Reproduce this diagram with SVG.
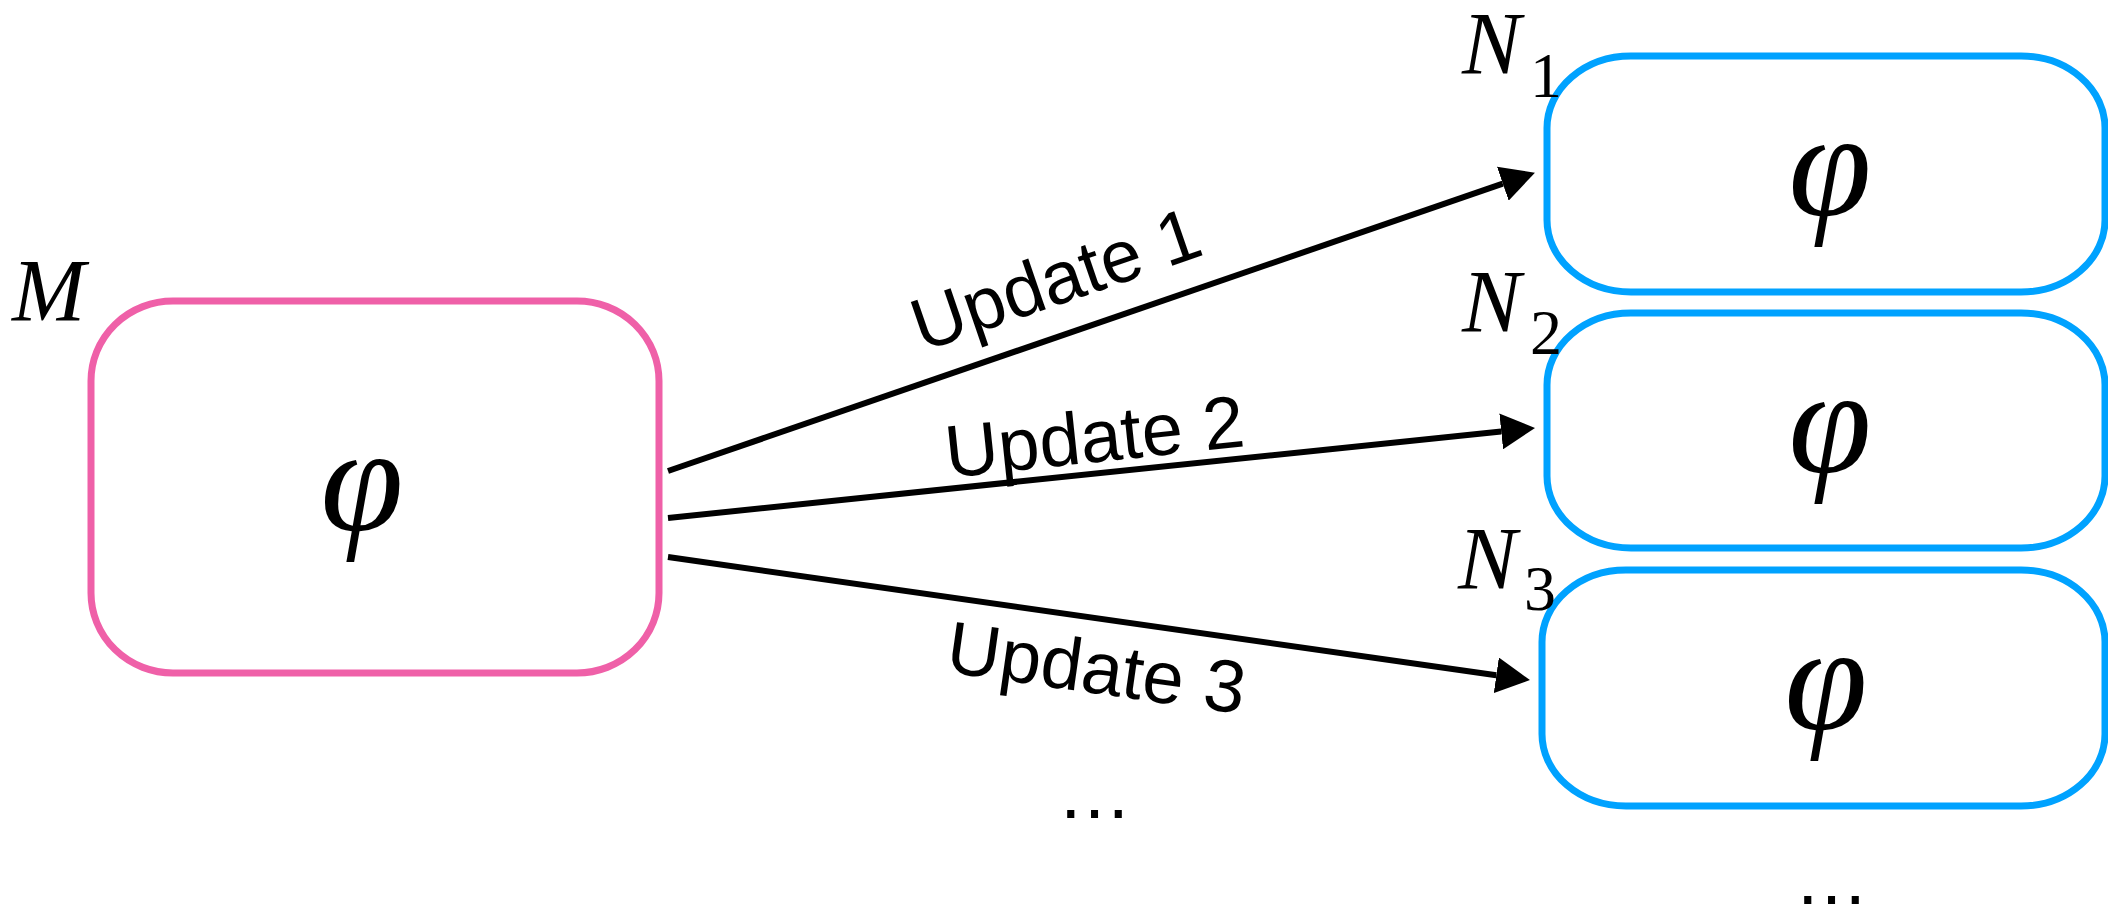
<svg xmlns="http://www.w3.org/2000/svg" width="2108" height="909" viewBox="0 0 2108 909">
<style>
.bg{fill:#ffffff}
.m{fill:none;stroke:#EF60A8;stroke-width:7}
.n{fill:none;stroke:#00A2FF;stroke-width:7}
.phi{font-family:"Liberation Serif","Times New Roman",serif;font-style:italic;font-size:150px;fill:#000;text-anchor:middle}
.lab{font-family:"Liberation Serif","Times New Roman",serif;font-style:italic;font-size:88px;fill:#000}
.sub{font-family:"Liberation Serif","Times New Roman",serif;font-size:64px;fill:#000}
.upd{font-family:"Liberation Sans",Arial,sans-serif;font-size:74px;fill:#000;text-anchor:middle}
.dots{font-family:"Liberation Sans",Arial,sans-serif;font-size:75px;fill:#000}
.edge{stroke:#000;stroke-width:6;fill:none}
</style>
<defs>
<marker id="ah" viewBox="0 0 34 36" refX="0" refY="18" markerWidth="34" markerHeight="36" markerUnits="userSpaceOnUse" orient="auto">
<path d="M0,0 L34,18 L0,36 Z" fill="#000"/>
</marker>
</defs>
<rect class="bg" x="0" y="0" width="2108" height="909"/>
<g id="node-M">
<rect class="m" x="91" y="301" width="568" height="372" rx="82" ry="80"/>
<text class="phi" x="362" y="530">φ</text>
<text class="lab" x="12" y="320">M</text>
</g>
<g id="node-N1">
<rect class="n" x="1547" y="56" width="558" height="236" rx="84" ry="72"/>
<text class="phi" x="1830" y="215">φ</text>
<text class="lab" x="1462" y="73">N</text>
<text class="sub" x="1530" y="97">1</text>
</g>
<g id="node-N2">
<rect class="n" x="1547" y="313" width="558" height="235" rx="84" ry="72"/>
<text class="phi" x="1830" y="472">φ</text>
<text class="lab" x="1462" y="331">N</text>
<text class="sub" x="1530" y="354">2</text>
</g>
<g id="node-N3">
<rect class="n" x="1542" y="570" width="563" height="236" rx="84" ry="72"/>
<text class="phi" x="1826" y="729">φ</text>
<text class="lab" x="1458" y="588">N</text>
<text class="sub" x="1524" y="610">3</text>
</g>
<g id="connectors">
<line class="edge" x1="668" y1="471" x2="1502.8" y2="183.7" marker-end="url(#ah)"/>
<line class="edge" x1="668" y1="518" x2="1501.2" y2="431.4" marker-end="url(#ah)"/>
<line class="edge" x1="668" y1="557" x2="1496.3" y2="675.3" marker-end="url(#ah)"/>
<text class="upd" transform="translate(1064,303) rotate(-19)">Update 1</text>
<text class="upd" transform="translate(1097,462) rotate(-6)">Update 2</text>
<text class="upd" transform="translate(1093,693) rotate(8.1)">Update 3</text>
</g>
<text class="dots" x="1057" y="818">…</text>
<text class="dots" x="1794" y="904">…</text>
</svg>
